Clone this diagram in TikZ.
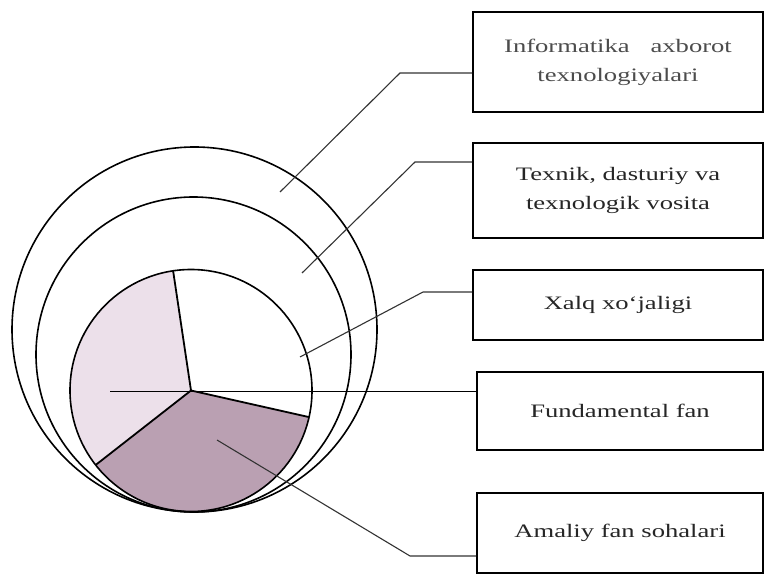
\documentclass[tikz,border=0pt]{standalone}
\usepackage{fontspec}
\setmainfont{Liberation Serif}[FakeStretch=1.4]
\begin{document}
\begin{tikzpicture}[x=1pt,y=1pt,
  lbox/.style={draw=black, line width=2pt, rectangle, inner sep=0pt, align=center,
    font=\fontsize{19}{29}\selectfont, text=black!85},
  ring/.style={draw=black, line width=1.6pt},
  leader/.style={draw=black!80, line width=1.1pt},
  divider/.style={draw=black, line width=1.8pt}]
\useasboundingbox (0,0) rectangle (766,576);
\fill[white] (0,0) rectangle (766,576);
% centre of the pie
\coordinate (c) at (191,185.5);
% sectors
\fill[fill={rgb,255:red,236;green,224;blue,234}] (c) -- ++(98.5:121) arc[start angle=98.5, end angle=218, radius=121] -- cycle;
\fill[fill={rgb,255:red,186;green,160;blue,178}] (c) -- ++(218:121) arc[start angle=218, end angle=347.3, radius=121] -- cycle;
% rings
\draw[ring] (194.5,246.5) circle[radius=182.5];
\draw[ring] (193.5,221.5) circle[radius=157.5];
\draw[ring] (c) circle[radius=121];
% dividers
\draw[divider] (c) -- ++(98.5:121);
\draw[divider] (c) -- ++(218:121);
\draw[divider] (c) -- ++(347.3:121);
% boxes
\node[lbox, minimum width=290pt, minimum height=100pt, text=black!70] (b1) at (618,514) {Informatika\hspace{1.1em}axborot\\texnologiyalari};
\node[lbox, minimum width=290pt, minimum height=95pt] (b2) at (618,385.5) {Texnik, dasturiy va\\texnologik vosita};
\node[lbox, minimum width=290pt, minimum height=70pt] (b3) at (618,271) {Xalq xo‘jaligi};
\node[lbox, minimum width=286pt, minimum height=78pt] (b4) at (620,165) {Fundamental fan};
\node[lbox, minimum width=286pt, minimum height=80pt] (b5) at (620,43) {Amaliy fan sohalari};
% leader points
\coordinate (p1) at (280,384);  \coordinate (k1) at (400,503);
\coordinate (p2) at (302,303);  \coordinate (k2) at (415,414);
\coordinate (p3) at (300,219);  \coordinate (k3) at (423,284);
\coordinate (p4) at (110,184.5);
\coordinate (p5) at (217,136);  \coordinate (k5) at (410,20);
\draw[leader] (p1) -- (k1) -- (k1 -| b1.west);
\draw[leader] (p2) -- (k2) -- (k2 -| b2.west);
\draw[leader] (p3) -- (k3) -- (k3 -| b3.west);
\draw[divider] (p4) -- (p4 -| b4.west);
\draw[leader] (p5) -- (k5) -- (k5 -| b5.west);
\end{tikzpicture}
\end{document}
